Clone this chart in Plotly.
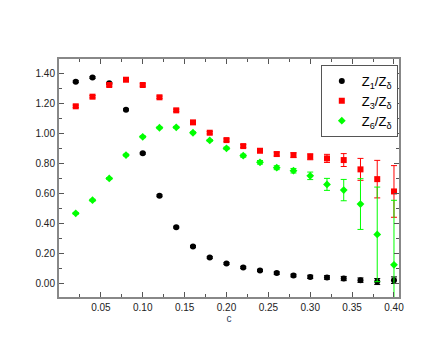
import plotly.graph_objects as go

c = [0.02, 0.04, 0.06, 0.08, 0.10, 0.12, 0.14, 0.16, 0.18, 0.20,
     0.22, 0.24, 0.26, 0.28, 0.30, 0.32, 0.34, 0.36, 0.38, 0.40]

z1 = [1.344, 1.371, 1.333, 1.157, 0.867, 0.584, 0.375, 0.247, 0.173, 0.133,
      0.107, 0.087, 0.069, 0.053, 0.044, 0.040, 0.033, 0.022, 0.013, 0.022]
z1_err = [0.006, 0.006, 0.006, 0.006, 0.006, 0.006, 0.006, 0.006, 0.006, 0.006,
          0.007, 0.007, 0.008, 0.009, 0.011, 0.012, 0.014, 0.015, 0.02, 0.022]

z3 = [1.18, 1.244, 1.322, 1.357, 1.322, 1.24, 1.153, 1.073, 1.004, 0.955,
      0.915, 0.884, 0.862, 0.855, 0.844, 0.833, 0.822, 0.76, 0.695, 0.613]
z3_err = [0.008, 0.008, 0.008, 0.008, 0.008, 0.008, 0.008, 0.008, 0.008, 0.008,
          0.01, 0.012, 0.013, 0.015, 0.02, 0.027, 0.043, 0.073, 0.125, 0.172]

z6 = [0.467, 0.555, 0.70, 0.855, 0.977, 1.037, 1.04, 1.004, 0.953, 0.90,
      0.851, 0.807, 0.771, 0.751, 0.717, 0.66, 0.622, 0.529, 0.327, 0.124]
z6_err = [0.006, 0.006, 0.006, 0.006, 0.006, 0.006, 0.006, 0.006, 0.006, 0.008,
          0.01, 0.012, 0.013, 0.015, 0.025, 0.04, 0.071, 0.169, 0.315, 0.43]

xticks = [0.05, 0.10, 0.15, 0.20, 0.25, 0.30, 0.35, 0.40]
yticks = [0.0, 0.2, 0.4, 0.6, 0.8, 1.0, 1.2, 1.4]

series = [
    ("Z<sub>1</sub>/Z<sub>δ</sub>", z1, z1_err, "#000000", "circle"),
    ("Z<sub>3</sub>/Z<sub>δ</sub>", z3, z3_err, "#ff0000", "square"),
    ("Z<sub>6</sub>/Z<sub>δ</sub>", z6, z6_err, "#00ff00", "diamond"),
]

fig = go.Figure()
for name, y, e, col, sym in series:
    fig.add_trace(go.Scatter(
        x=c, y=y, mode="markers", name=name,
        marker=dict(color=col, symbol=sym, size=6, line=dict(width=0)),
        error_y=dict(type="data", array=e, visible=True, color=col,
                     thickness=1, width=3),
    ))

axis_common = dict(
    showline=True, linecolor="#888888", linewidth=2, mirror="ticks",
    ticks="inside", ticklen=5, tickcolor="#555555", tickwidth=1,
    showgrid=False, zeroline=False,
    tickfont=dict(family="Liberation Sans, Arial, sans-serif", size=10, color="#222222"),
)

fig.update_xaxes(
    range=[0.0, 0.406], tickvals=xticks, tickformat=".2f",
    minor=dict(ticks="inside", ticklen=3, dtick=0.025, tick0=0, tickcolor="#555555"),
    title=dict(text="c", font=dict(family="Liberation Sans, Arial, sans-serif", size=10), standoff=2),
    **axis_common,
)
fig.update_yaxes(
    range=[-0.09, 1.495], tickvals=yticks, tickformat=".2f",
    minor=dict(ticks="inside", ticklen=3, dtick=0.1, tick0=0, tickcolor="#555555"),
    **axis_common,
)

fig.update_layout(
    width=440, height=340,
    margin=dict(l=51, r=49, t=51, b=51),
    plot_bgcolor="white", paper_bgcolor="white",
    legend=dict(
        x=0.77, y=0.975, xanchor="left", yanchor="top",
        bordercolor="#555555", borderwidth=1, bgcolor="white",
        font=dict(family="Liberation Sans, Arial, sans-serif", size=13, color="#000000"),
        itemwidth=30, tracegroupgap=0,
    ),
    font=dict(family="Liberation Sans, Arial, sans-serif"),
)

fig.write_html("out.html")
